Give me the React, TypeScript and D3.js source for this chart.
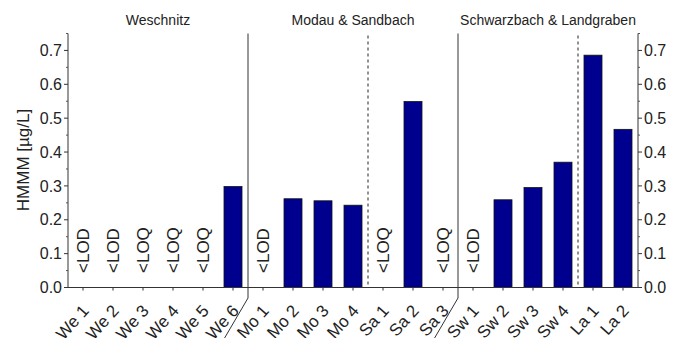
import React from "react";
import * as d3 from "d3";

const categories = [
  "We 1", "We 2", "We 3", "We 4", "We 5", "We 6",
  "Mo 1", "Mo 2", "Mo 3", "Mo 4",
  "Sa 1", "Sa 2", "Sa 3",
  "Sw 1", "Sw 2", "Sw 3", "Sw 4",
  "La 1", "La 2",
];
// null = below detection / quantification limit
const values: (number | null)[] = [
  null, null, null, null, null, 0.298,
  null, 0.262, 0.256, 0.243,
  null, 0.549, null,
  null, 0.259, 0.295, 0.370,
  0.686, 0.467,
];
const limitLabels: (string | null)[] = [
  "<LOD", "<LOD", "<LOQ", "<LOQ", "<LOQ", null,
  "<LOD", null, null, null,
  "<LOQ", null, "<LOQ",
  "<LOD", null, null, null,
  null, null,
];
const groups = [
  { name: "Weschnitz", from: 0, to: 5 },
  { name: "Modau & Sandbach", from: 6, to: 12 },
  { name: "Schwarzbach & Landgraben", from: 13, to: 18 },
];
const solidDividers = [6, 13];
const dashedDividers = [10, 17];
const yTicks = [0, 0.1, 0.2, 0.3, 0.4, 0.5, 0.6, 0.7];
const yMinorTicks = [0.05, 0.15, 0.25, 0.35, 0.45, 0.55, 0.65, 0.75];

const W = 677;
const H = 338;
const left = 68;
const right = 638;
const top = 33.5;
const bottom = 287.5;
const font = "'Liberation Sans', Arial, sans-serif";

export default function App() {
  const x = d3
    .scaleBand<string>()
    .domain(categories)
    .range([left, right])
    .paddingInner(0.4)
    .paddingOuter(0.2);
  const y = d3.scaleLinear().domain([0, 0.75]).range([bottom, top]);
  const step = x.step();
  const edge = (i: number) => left + i * step;
  const cx = (c: string) => (x(c) as number) + x.bandwidth() / 2;

  return (
    <svg width={W} height={H} style={{ position: "absolute", left: 0, top: 0 }} fontFamily={font}>
      <rect width={W} height={H} fill="#fff" />

      {/* bars */}
      {categories.map((c, i) =>
        values[i] != null ? (
          <rect
            key={c}
            x={x(c)}
            y={y(values[i] as number)}
            width={x.bandwidth()}
            height={bottom - y(values[i] as number)}
            fill="#00008F"
            stroke="#111"
            strokeWidth={0.8}
          />
        ) : null
      )}

      {/* limit labels */}
      {categories.map((c, i) =>
        limitLabels[i] ? (
          <text
            key={"l" + c}
            transform={`translate(${cx(c)},273) rotate(-90)`}
            dy="0.36em"
            fontSize={17}
            fill="#222"
          >
            {limitLabels[i]}
          </text>
        ) : null
      )}

      {/* group dividers */}
      {solidDividers.map((i) => (
        <path
          key={"s" + i}
          d={`M${edge(i)},${top}V298L${edge(i) - 24},339`}
          fill="none"
          stroke="#333"
          strokeWidth={1}
        />
      ))}
      {dashedDividers.map((i) => (
        <line
          key={"d" + i}
          x1={edge(i)}
          x2={edge(i)}
          y1={top + 2}
          y2={bottom}
          stroke="#222"
          strokeWidth={1}
          strokeDasharray="3,3"
        />
      ))}

      {/* group titles */}
      {groups.map((g) => (
        <text
          key={g.name}
          x={(edge(g.from) + edge(g.to + 1)) / 2}
          y={25}
          textAnchor="middle"
          fontSize={14}
          fill="#222"
        >
          {g.name}
        </text>
      ))}

      {/* axes */}
      <line x1={left} x2={left} y1={top} y2={bottom} stroke="#333" />
      <line x1={right} x2={right} y1={top} y2={bottom} stroke="#333" />
      <line x1={left} x2={right} y1={bottom} y2={bottom} stroke="#333" />

      {yTicks.map((t) => (
        <g key={"t" + t}>
          <line x1={left - 4} x2={left} y1={y(t)} y2={y(t)} stroke="#333" />
          <line x1={right} x2={right + 4} y1={y(t)} y2={y(t)} stroke="#333" />
          <text x={left - 6} y={y(t)} dy="0.35em" textAnchor="end" fontSize={16} fill="#222">
            {d3.format(".1f")(t)}
          </text>
          <text x={right + 6} y={y(t)} dy="0.35em" textAnchor="start" fontSize={16} fill="#222">
            {d3.format(".1f")(t)}
          </text>
        </g>
      ))}
      {yMinorTicks.map((t) => (
        <g key={"m" + t}>
          <line x1={left - 2} x2={left} y1={y(t)} y2={y(t)} stroke="#555" />
          <line x1={right} x2={right + 2} y1={y(t)} y2={y(t)} stroke="#555" />
        </g>
      ))}

      {/* x ticks and labels */}
      {categories.map((c) => (
        <g key={"x" + c}>
          <line x1={cx(c)} x2={cx(c)} y1={bottom} y2={bottom + 3} stroke="#333" />
          <text
            transform={`translate(${cx(c) - 2},${bottom + 16}) rotate(-48)`}
            textAnchor="end"
            dy="0.7em"
            fontSize={17}
            fill="#222"
          >
            {c}
          </text>
        </g>
      ))}

      {/* y axis title */}
      <text
        transform={`translate(23,160) rotate(-90)`}
        textAnchor="middle"
        dy="0.35em"
        fontSize={17}
        fill="#222"
      >
        HMMM [µg/L]
      </text>
    </svg>
  );
}
